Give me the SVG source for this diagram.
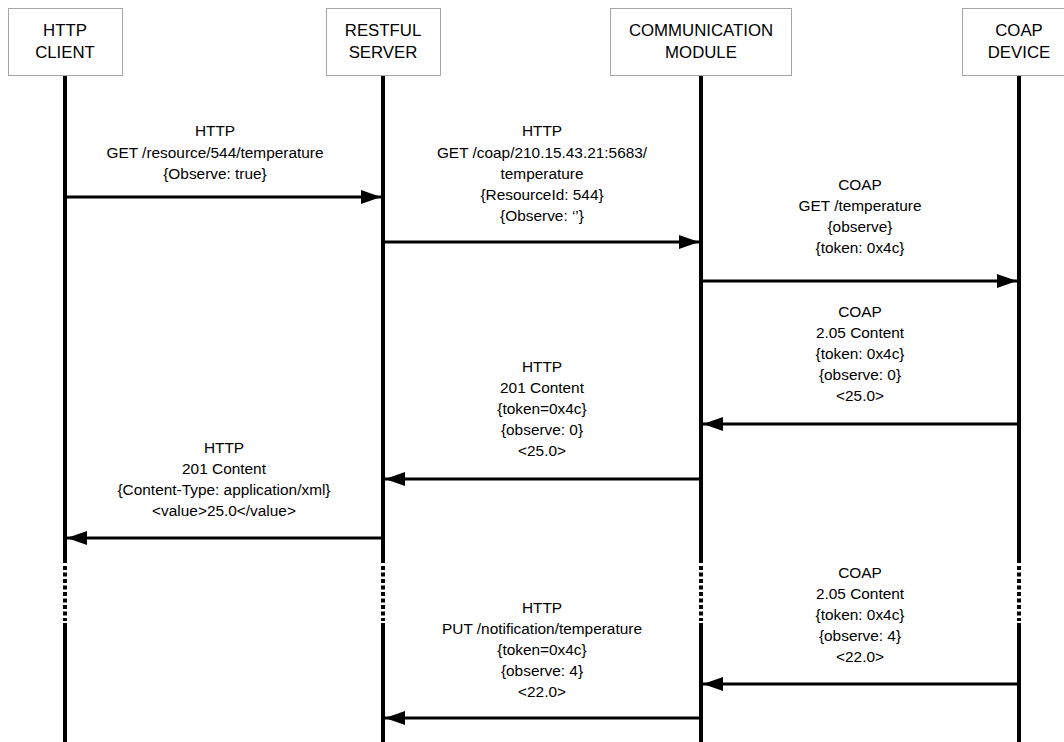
<svg xmlns="http://www.w3.org/2000/svg" width="1064" height="742" viewBox="0 0 1064 742">
<defs>
<style>
.box{fill:#fff;stroke:#a6a6a6;stroke-width:1}
.hd{font-family:"Liberation Sans",Arial,sans-serif;font-size:16.8px;fill:#000;text-anchor:middle}
.lb{font-family:"Liberation Sans",Arial,sans-serif;font-size:15.4px;fill:#000;text-anchor:middle}
.life{stroke:#000;stroke-width:4;fill:none}
.dot{stroke:#000;stroke-width:4;fill:none;stroke-dasharray:4 2.5}
.msg{stroke:#000;stroke-width:3;fill:none;marker-end:url(#ah)}
</style>
<marker id="ah" markerUnits="userSpaceOnUse" markerWidth="20" markerHeight="14" refX="20" refY="7" orient="auto">
<path d="M0,0 L20,7 L0,14 z" fill="#000"/>
</marker>
</defs>
<rect width="1064" height="742" fill="#fff"/>

<g id="lifelines">
<path class="life" d="M65,76 V563 M65,623 V742"/>
<path class="dot" d="M65,566 V621"/>
<path class="life" d="M383,76 V563 M383,623 V742"/>
<path class="dot" d="M383,566 V621"/>
<path class="life" d="M701,76 V563 M701,623 V742"/>
<path class="dot" d="M701,566 V621"/>
<path class="life" d="M1019,76 V563 M1019,623 V742"/>
<path class="dot" d="M1019,566 V621"/>
</g>

<g id="http-client">
<rect class="box" x="8.5" y="8.5" width="114" height="67"/>
<text class="hd" x="65" y="36">HTTP</text>
<text class="hd" x="65" y="58">CLIENT</text>
</g>
<g id="restful-server">
<rect class="box" x="326.5" y="8.5" width="114" height="67"/>
<text class="hd" x="383" y="36">RESTFUL</text>
<text class="hd" x="383" y="58">SERVER</text>
</g>
<g id="communication-module">
<rect class="box" x="610.5" y="8.5" width="181" height="67"/>
<text class="hd" x="701" y="36">COMMUNICATION</text>
<text class="hd" x="701" y="58">MODULE</text>
</g>
<g id="coap-device">
<rect class="box" x="962.5" y="8.5" width="114" height="67"/>
<text class="hd" x="1019" y="36">COAP</text>
<text class="hd" x="1019" y="58">DEVICE</text>
</g>

<g id="connectors">
<line class="msg" x1="67" y1="197" x2="381" y2="197"/>
<line class="msg" x1="385" y1="242" x2="699" y2="242"/>
<line class="msg" x1="703" y1="281" x2="1017" y2="281"/>
<line class="msg" x1="1017" y1="424" x2="703" y2="424"/>
<line class="msg" x1="699" y1="479" x2="385" y2="479"/>
<line class="msg" x1="381" y1="538" x2="67" y2="538"/>
<line class="msg" x1="1017" y1="684" x2="703" y2="684"/>
<line class="msg" x1="699" y1="718" x2="385" y2="718"/>
</g>

<g id="labels">
<text class="lb" x="215" y="136">HTTP</text>
<text class="lb" x="215" y="158">GET /resource/544/temperature</text>
<text class="lb" x="215" y="179">{Observe: true}</text>

<text class="lb" x="542" y="136">HTTP</text>
<text class="lb" x="542" y="158">GET /coap/210.15.43.21:5683/</text>
<text class="lb" x="542" y="179">temperature</text>
<text class="lb" x="542" y="200">{ResourceId: 544}</text>
<text class="lb" x="542" y="221">{Observe: ‘’}</text>

<text class="lb" x="860" y="190">COAP</text>
<text class="lb" x="860" y="211">GET /temperature</text>
<text class="lb" x="860" y="232">{observe}</text>
<text class="lb" x="860" y="253">{token: 0x4c}</text>

<text class="lb" x="860" y="317">COAP</text>
<text class="lb" x="860" y="338">2.05 Content</text>
<text class="lb" x="860" y="359">{token: 0x4c}</text>
<text class="lb" x="860" y="380">{observe: 0}</text>
<text class="lb" x="860" y="401">&lt;25.0&gt;</text>

<text class="lb" x="542" y="372">HTTP</text>
<text class="lb" x="542" y="393">201 Content</text>
<text class="lb" x="542" y="414">{token=0x4c}</text>
<text class="lb" x="542" y="435">{observe: 0}</text>
<text class="lb" x="542" y="456">&lt;25.0&gt;</text>

<text class="lb" x="224" y="453">HTTP</text>
<text class="lb" x="224" y="474">201 Content</text>
<text class="lb" x="224" y="495">{Content-Type: application/xml}</text>
<text class="lb" x="224" y="516">&lt;value&gt;25.0&lt;/value&gt;</text>

<text class="lb" x="860" y="578">COAP</text>
<text class="lb" x="860" y="599">2.05 Content</text>
<text class="lb" x="860" y="620">{token: 0x4c}</text>
<text class="lb" x="860" y="641">{observe: 4}</text>
<text class="lb" x="860" y="662">&lt;22.0&gt;</text>

<text class="lb" x="542" y="613">HTTP</text>
<text class="lb" x="542" y="634">PUT /notification/temperature</text>
<text class="lb" x="542" y="655">{token=0x4c}</text>
<text class="lb" x="542" y="676">{observe: 4}</text>
<text class="lb" x="542" y="697">&lt;22.0&gt;</text>
</g>
</svg>
